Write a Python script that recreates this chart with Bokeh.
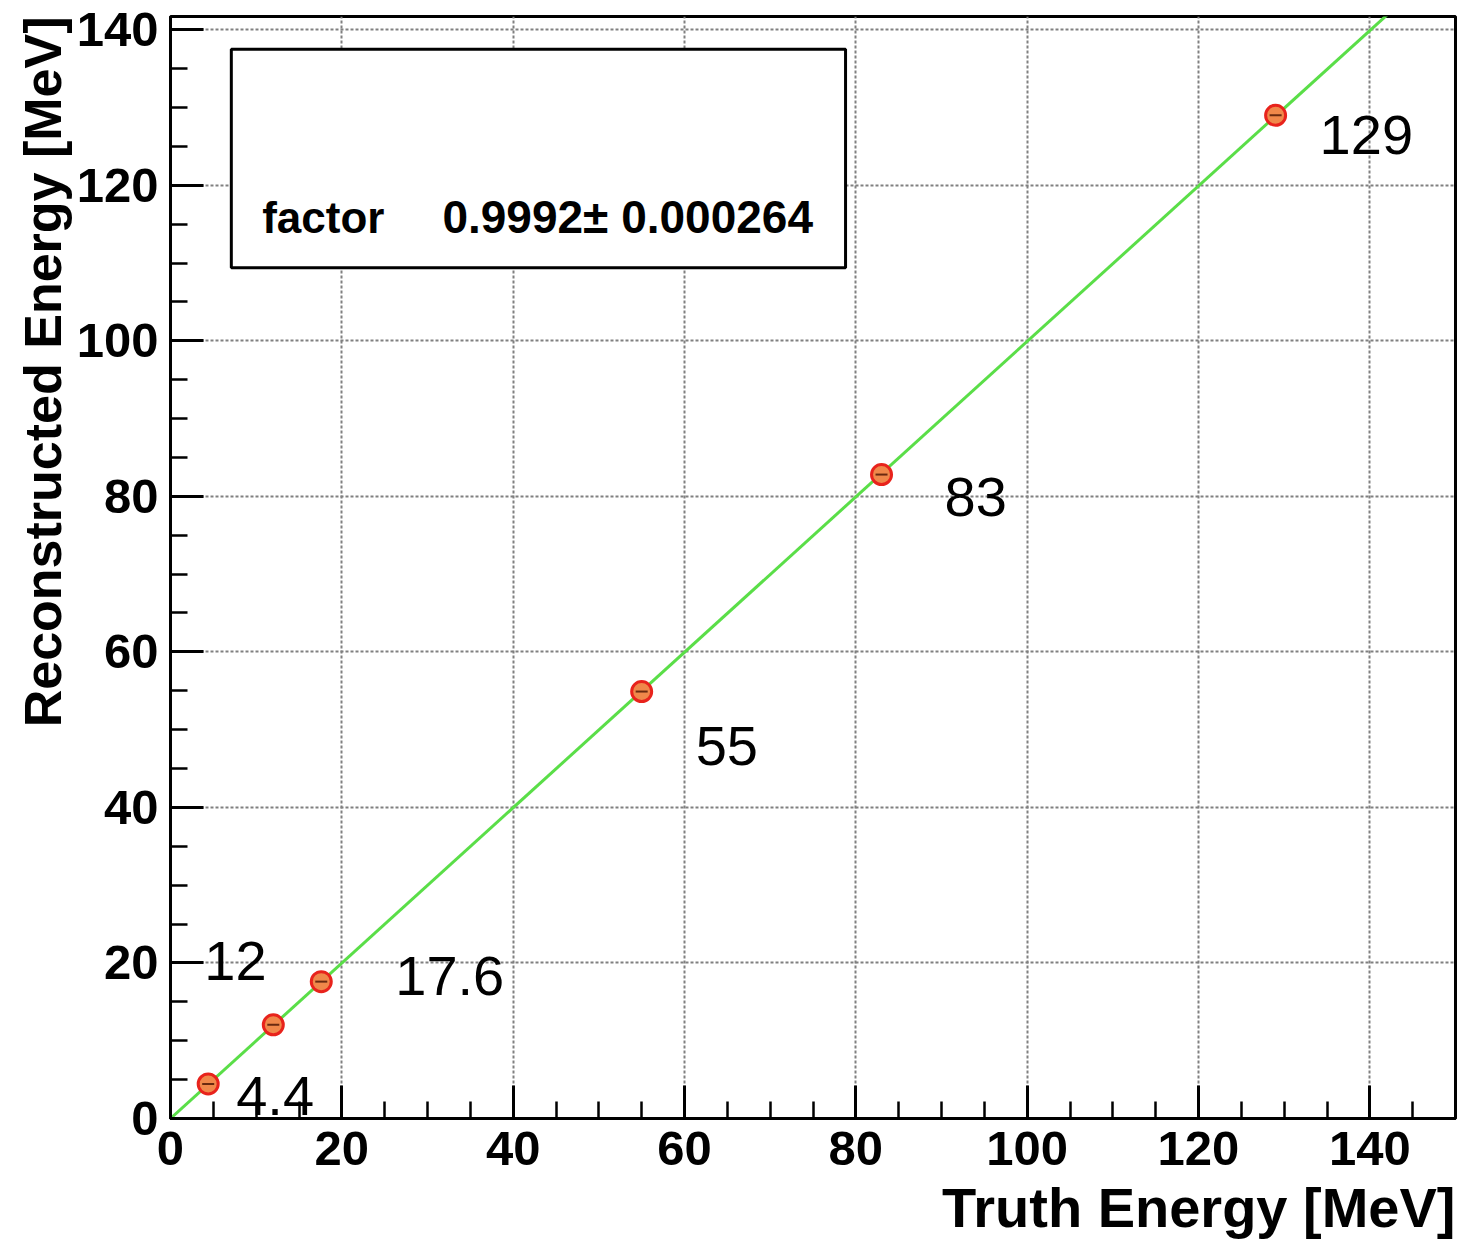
from bokeh.plotting import figure
from bokeh.models import Range1d, SingleIntervalTicker, Title, BoxAnnotation, Label, ColumnDataSource
from bokeh.core.properties import value
from bokeh.embed import file_html
from bokeh.resources import INLINE

# ---- data ----
truth_energy = [4.4, 12.0, 17.6, 55.0, 83.0, 129.0]
reco_energy = [4.45, 12.05, 17.6, 54.9, 82.8, 129.0]
point_labels = ["4.4", "12", "17.6", "55", "83", "129"]
fit_factor = 0.9992
fit_error = 0.000264
x_title = "Truth Energy [MeV]"
y_title = "Reconstructed Energy [MeV]"

# ---- layout / style constants ----
label_dx = [28, -69, 74, 54, 63, 44]   # screen px
label_dy = [12, -64, -6, 54, 22, 20]   # screen px (down)
FONT = "Liberation Sans"

p = figure(width=1469, height=1252, output_backend="svg", toolbar_location=None,
           x_range=Range1d(0, 150), y_range=Range1d(0, 141.7),
           min_border_left=170, min_border_right=14, min_border_top=16, min_border_bottom=134)
p.background_fill_color = "white"
p.border_fill_color = "white"
p.outline_line_color = "black"
p.outline_line_width = 3

for ax in (p.xaxis[0], p.yaxis[0]):
    ax.ticker = SingleIntervalTicker(interval=20, num_minor_ticks=4)
    ax.axis_line_width = 3
    ax.axis_line_color = "black"
    ax.major_tick_line_width = 3
    ax.minor_tick_line_width = 2.5
    ax.major_tick_in = 33
    ax.major_tick_out = 0
    ax.minor_tick_in = 17
    ax.minor_tick_out = 0
    ax.major_label_text_font = FONT
    ax.major_label_text_font_style = "bold"
    ax.major_label_text_font_size = "49px"
    ax.major_label_text_color = "black"
    ax.axis_label = None
p.xaxis[0].major_label_standoff = 13
p.yaxis[0].major_label_standoff = 12

for g in (p.xgrid[0], p.ygrid[0]):
    g.ticker = SingleIntervalTicker(interval=20)
    g.grid_line_color = "#808080"
    g.grid_line_width = 2
    g.grid_line_dash = "3 2"

p.add_layout(Title(text=y_title, align="right", text_font=FONT, text_font_style="bold",
                   text_font_size="52px", text_color="black", standoff=4), "left")
p.add_layout(Title(text=x_title, align="right", text_font=FONT, text_font_style="bold",
                   text_font_size="56px", text_color="black", standoff=12), "below")

# stats box
p.add_layout(BoxAnnotation(left=7.1, right=78.8, top=137.5, bottom=109.4,
                           fill_color="white", fill_alpha=1.0,
                           line_color="black", line_alpha=1.0, line_width=3))
p.add_layout(Label(x=10.7, y=115.9, text="factor", text_font=FONT, text_font_style="bold",
                   text_font_size="44px", text_baseline="middle", text_align="left",
                   text_color="black"))
p.add_layout(Label(x=75.0, y=115.9, text=f"{fit_factor:.4f}\u00b1 {fit_error:.6f}",
                   text_font=FONT, text_font_style="bold",
                   text_font_size="46px", text_baseline="middle", text_align="right",
                   text_color="black"))

# fit line
fit_x = [0, 150]
fit_y = [fit_factor * v for v in fit_x]
p.line(fit_x, fit_y, line_color="#5ade48", line_width=3)

# points
src = ColumnDataSource(dict(x=truth_energy, y=reco_energy, label=point_labels,
                            dx=label_dx, dy=label_dy))
p.scatter("x", "y", source=src, marker="circle", size=20, fill_color="#f0884a",
          line_color="#e8231c", line_width=3)
p.scatter("x", "y", source=src, marker="dash", size=12, line_color="#6a2a10", line_width=2)

p.text("x", "y", text="label", x_offset="dx", y_offset="dy", source=src,
       text_font=value(FONT), text_font_size="56px", text_baseline="middle",
       text_align="left", text_color="black")

open("out.html", "w").write(file_html(p, INLINE))
